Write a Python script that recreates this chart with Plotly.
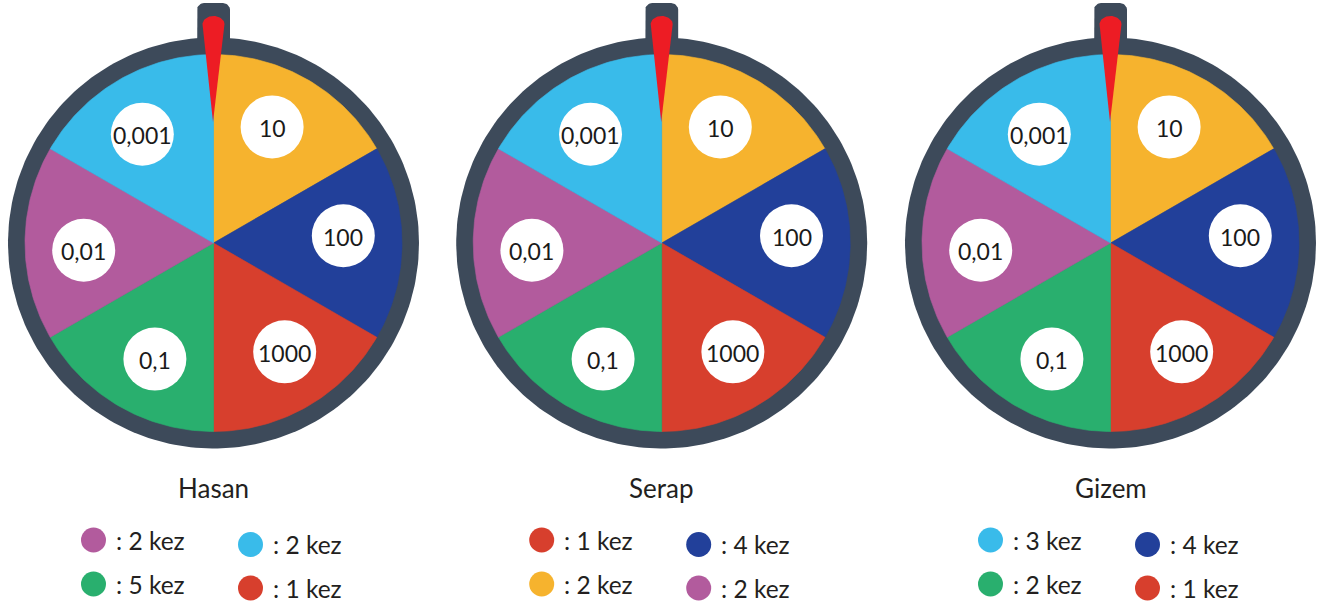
import numpy as np
import plotly.graph_objects as go

# ---------------- data ----------------
players = ["Hasan", "Serap", "Gizem"]
sector_labels = ["10", "100", "1000", "0,1", "0,01", "0,001"]
sector_colors = ["#F6B32E", "#22409A", "#D73F2D", "#29AF6E", "#B25B9D", "#39BBEA"]
sector_values = [1, 1, 1, 1, 1, 1]

hasan_keys = ["0,01", "0,001", "0,1", "1000"]
hasan_counts = [2, 2, 5, 1]
serap_keys = ["1000", "100", "10", "0,01"]
serap_counts = [1, 4, 2, 2]
gizem_keys = ["0,001", "100", "0,1", "1000"]
gizem_counts = [3, 4, 2, 1]

legend_keys = [hasan_keys, serap_keys, gizem_keys]
legend_counts = [hasan_counts, serap_counts, gizem_counts]

# ---------------- style / layout ----------------
W, H = 1325, 606
centers_x = [213.5, 661.7, 1110.5]
cy = 243
R_OUT = 205.5
R_IN = 188.5
RING = "#3D4A5A"
NEEDLE = "#ED1C24"
TXT = "#231F20"
LABEL_R = 130
LABEL_OFF = 3.2
FONT = "Lato"

fig = go.Figure()


def poly(xs, ys, color, line_w=0.6):
    fig.add_trace(go.Scatter(x=xs, y=ys, mode="lines", fill="toself",
                             fillcolor=color, line=dict(color=color, width=line_w),
                             hoverinfo="skip", showlegend=False))


color_of = dict(zip(sector_labels, sector_colors))

for k, cx in enumerate(centers_x):
    # pointer tab (rounded top)
    r = 7
    tx0, tx1, ty0, ty1 = cx - 16.5, cx + 16.5, 3, 70
    a1 = np.linspace(np.pi, np.pi / 2, 10)
    a2 = np.linspace(np.pi / 2, 0, 10)
    xs = [tx0] + list(tx0 + r + r * np.cos(a1)) + list(tx1 - r + r * np.cos(a2)) + [tx1, tx0]
    ys = [ty1] + list(ty0 + r - r * np.sin(a1)) + list(ty0 + r - r * np.sin(a2)) + [ty1, ty1]
    poly(xs, ys, RING, 0)

    # outer ring
    t = np.linspace(0, 2 * np.pi, 240)
    poly(list(cx + R_OUT * np.cos(t)), list(cy - R_OUT * np.sin(t)), RING, 0)

    # sectors
    total = sum(sector_values)
    start = 90.0
    mids = []
    for lab, val, col in zip(sector_labels, sector_values, sector_colors):
        span = 360.0 * val / total
        end = start - span
        th = np.radians(np.linspace(start, end, 60))
        xs = [cx] + list(cx + R_IN * np.cos(th)) + [cx]
        ys = [cy] + list(cy - R_IN * np.sin(th)) + [cy]
        poly(xs, ys, col)
        mids.append((start + end) / 2)
        start = end

    # needle
    e = np.linspace(0, np.pi, 30)
    nx = list(cx + 11 * np.cos(e)) + [cx - 0.5, cx + 11]
    ny = list(24 - 8 * np.sin(e)) + [122, 24]
    poly(nx, ny, NEEDLE, 0)

    # label circles
    ang = np.radians(np.array(mids) + LABEL_OFF)
    lx = cx + LABEL_R * np.cos(ang)
    ly = cy - LABEL_R * np.sin(ang)
    fig.add_trace(go.Scatter(x=lx, y=ly, mode="markers",
                             marker=dict(size=63, color="white", line=dict(width=0)),
                             hoverinfo="skip", showlegend=False))
    for x0, y0, lab in zip(lx, ly, sector_labels):
        fig.add_annotation(x=x0, y=y0, text=lab, showarrow=False,
                           xanchor="center", yanchor="middle", yshift=-1,
                           font=dict(family=FONT, size=23, color="#1A1A1A"))

    # name
    fig.add_annotation(x=cx, y=488, text=players[k], showarrow=False,
                       xanchor="center", yanchor="middle",
                       font=dict(family=FONT, size=26, color=TXT))

    # legend
    dx = [cx - 120, cx + 37, cx - 120, cx + 37]
    dy = [540, 544.5, 584, 588]
    cols = [color_of[key] for key in legend_keys[k]]
    fig.add_trace(go.Scatter(x=dx, y=dy, mode="markers",
                             marker=dict(size=25, color=cols, line=dict(width=0)),
                             hoverinfo="skip", showlegend=False))
    for x0, y0, c in zip(dx, dy, legend_counts[k]):
        fig.add_annotation(x=x0 + 20, y=y0, text=f": {c} kez", showarrow=False,
                           xanchor="left", yanchor="middle",
                           font=dict(family=FONT, size=24.5, color=TXT))

fig.update_layout(width=W, height=H, margin=dict(l=0, r=0, t=0, b=0),
                  paper_bgcolor="white", plot_bgcolor="white",
                  xaxis=dict(range=[0, W], visible=False, fixedrange=True),
                  yaxis=dict(range=[H, 0], visible=False, fixedrange=True),
                  showlegend=False)

fig.write_html("out.html", config={"displayModeBar": False},
               post_script="document.body.style.margin='0';document.body.style.overflow='hidden';")
